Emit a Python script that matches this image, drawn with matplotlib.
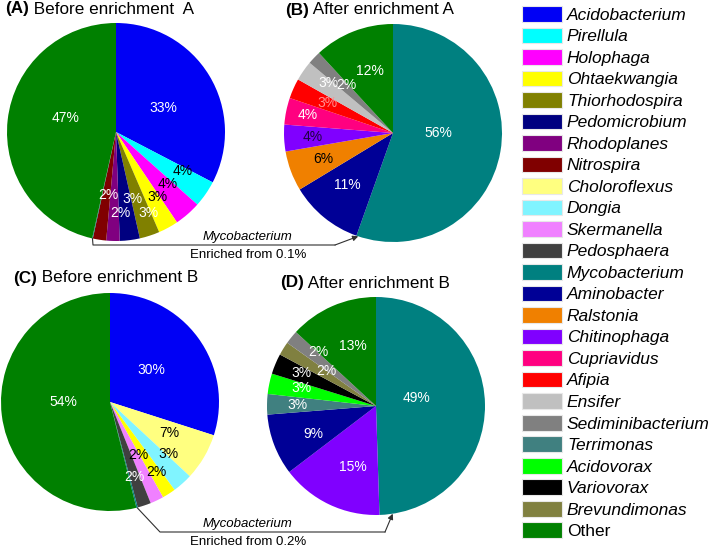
import numpy as np
import matplotlib
matplotlib.use("Agg")
import matplotlib.pyplot as plt
from matplotlib.patches import Patch

plt.rcParams['font.family'] = ['Liberation Sans', 'DejaVu Sans']

# legend order / colours
genera = ['Acidobacterium', 'Pirellula', 'Holophaga', 'Ohtaekwangia', 'Thiorhodospira',
          'Pedomicrobium', 'Rhodoplanes', 'Nitrospira', 'Choloroflexus', 'Dongia',
          'Skermanella', 'Pedosphaera', 'Mycobacterium', 'Aminobacter', 'Ralstonia',
          'Chitinophaga', 'Cupriavidus', 'Afipia', 'Ensifer', 'Sediminibacterium',
          'Terrimonas', 'Acidovorax', 'Variovorax', 'Brevundimonas', 'Other']
genus_colors = ['#0000f5', '#00ffff', '#ff00ff', '#ffff00', '#808000',
                '#000080', '#800080', '#800000', '#ffff80', '#80f4ff',
                '#f080ff', '#404040', '#008080', '#000096', '#f08000',
                '#8000ff', '#ff0080', '#ff0000', '#c0c0c0', '#808080',
                '#408080', '#00ff00', '#000000', '#808040', '#008000']
cmap = dict(zip(genera, genus_colors))

# (A) before enrichment A
a_names = ['Acidobacterium', 'Pirellula', 'Holophaga', 'Ohtaekwangia', 'Thiorhodospira',
           'Pedomicrobium', 'Rhodoplanes', 'Nitrospira', 'Mycobacterium', 'Other']
a_values = [33, 4, 4, 3, 3, 3, 2, 2, 0.1, 47]
# (B) after enrichment A
b_names = ['Mycobacterium', 'Aminobacter', 'Ralstonia', 'Chitinophaga', 'Cupriavidus',
           'Afipia', 'Ensifer', 'Sediminibacterium', 'Other']
b_values = [56, 11, 6, 4, 4, 3, 3, 2, 12]
# (C) before enrichment B
c_names = ['Acidobacterium', 'Choloroflexus', 'Dongia', 'Ohtaekwangia', 'Skermanella',
           'Pedosphaera', 'Mycobacterium', 'Other']
c_values = [30, 7, 3, 2, 2, 2, 0.2, 54]
# (D) after enrichment B
d_names = ['Mycobacterium', 'Chitinophaga', 'Aminobacter', 'Terrimonas', 'Acidovorax',
           'Variovorax', 'Brevundimonas', 'Sediminibacterium', 'Other']
d_values = [49, 15, 9, 3, 3, 3, 2, 2, 13]

W, H = 709, 548
fig = plt.figure(figsize=(W / 100, H / 100), dpi=100)

# overlay in pixel coords (origin top-left) for titles / connectors
ov = fig.add_axes([0, 0, 1, 1])
ov.set_xlim(0, W)
ov.set_ylim(H, 0)
ov.axis('off')


def draw_pie(cx, cy, r, names, values, lab_r, lab_d, lab_c):
    # lab_r: label radius, lab_d: clockwise shift of label from wedge middle (deg)
    ax = fig.add_axes([(cx - r) / W, (H - cy - r) / H, 2 * r / W, 2 * r / H])
    wedges, _ = ax.pie(values, colors=[cmap[n] for n in names], startangle=90,
                       counterclock=False, wedgeprops=dict(linewidth=0))
    ax.set_xlim(-1, 1)
    ax.set_ylim(-1, 1)
    for w, v, rr, dd, col in zip(wedges, values, lab_r, lab_d, lab_c):
        w.set_clip_on(False)
        if v < 1:
            continue
        ang = np.deg2rad((w.theta1 + w.theta2) / 2 - dd)
        ax.text(rr * np.cos(ang), rr * np.sin(ang), f'{v:.0f}%', color=col,
                fontsize=10, ha='center', va='center')
    return ax, wedges


def rim_point(ax, deg):
    a = np.deg2rad(deg)
    p = ax.transData.transform((np.cos(a), np.sin(a)))
    return ov.transData.inverted().transform(p)


ax_a, w_a = draw_pie(116, 132, 109, a_names, a_values,
                     [0.49, 0.71, 0.67, 0.71, 0.80, 0.63, 0.74, 0.58, 0, 0.48],
                     [4, -4, -3.5, -3.7, -3.6, -7, -5, -2, 0, 9.6],
                     ['w', 'k', 'k', 'k', 'w', 'w', 'w', 'w', 'w', 'w'])
ax_b, w_b = draw_pie(393, 133, 109, b_names, b_values,
                     [0.42, 0.63, 0.68, 0.74, 0.80, 0.66, 0.75, 0.61, 0.61],
                     [-10, 2, 0, 0, 0, 1, 3, 2, 1],
                     ['w', 'w', 'k', '#200040', 'w', '#ff9090', 'w', 'w', 'w'])
ax_c, w_c = draw_pie(110, 402, 109, c_names, c_values,
                     [0.48, 0.61, 0.72, 0.77, 0.55, 0.72, 0, 0.43],
                     [-1, -3, -7, -1, -3, 0, 0, 7],
                     ['w', 'k', 'k', 'k', 'k', 'w', 'w', 'w'])
ax_d, w_d = draw_pie(376, 406, 109, d_names, d_values,
                     [0.38, 0.60, 0.63, 0.72, 0.70, 0.75, 0.56, 0.73, 0.59],
                     [-10, -5, -3, 0, 2, 1, 3, 4, 3],
                     ['w'] * 9)

# panel titles
titles = [('(A)', ' Before enrichment  A', 5, 9),
          ('(B)', ' After enrichment A', 285, 10),
          ('(C)', ' Before enrichment B', 13, 278),
          ('(D)', ' After enrichment B', 280, 283)]
for tag, txt, x, y in titles:
    t = ov.text(x, y, tag, fontsize=12.3, fontweight='bold', va='center', ha='left')
    ov.annotate(txt, xy=(1, 0.5), xycoords=t, fontsize=12.3, va='center', ha='left')


# connectors: Mycobacterium before -> after
def connector(ax_from, w_from, idx, ax_to, w_to, end_shift, x1, x2, yl, pct):
    w0 = w_from[idx]
    s = rim_point(ax_from, (w0.theta1 + w0.theta2) / 2)
    e = rim_point(ax_to, w_to[0].theta1 + end_shift)
    ov.plot([s[0], x1, x2], [s[1], yl, yl], color='#303030', lw=0.8)
    ov.annotate('', xy=e, xytext=(x2, yl),
                arrowprops=dict(arrowstyle='-|>', color='#303030', lw=0.8,
                                mutation_scale=8, shrinkA=0, shrinkB=0))
    ov.text(247, yl - 8, 'Mycobacterium', style='italic', fontsize=9.5,
            ha='center', va='center')
    ov.text(248, yl + 10, f'Enriched from {pct}', fontsize=9.5, ha='center', va='center')


connector(ax_a, w_a, a_names.index('Mycobacterium'), ax_b, w_b, 1, 93, 335, 245, '0.1%')
connector(ax_c, w_c, c_names.index('Mycobacterium'), ax_d, w_d, 7, 160, 385, 532, '0.2%')

# legend
handles = [Patch(facecolor=c, edgecolor='#e8e8e8', linewidth=0.8) for c in genus_colors]
leg = fig.legend(handles, genera, loc='upper left', bbox_to_anchor=(522 / W, 1 - 6 / H),
                 frameon=False, borderpad=0, borderaxespad=0, handlelength=2.3,
                 handleheight=1.03, handletextpad=0.29, labelspacing=0.267, fontsize=12.5)
for t in leg.get_texts():
    if t.get_text() != 'Other':
        t.set_style('italic')

fig.savefig('out.png', dpi=100)
